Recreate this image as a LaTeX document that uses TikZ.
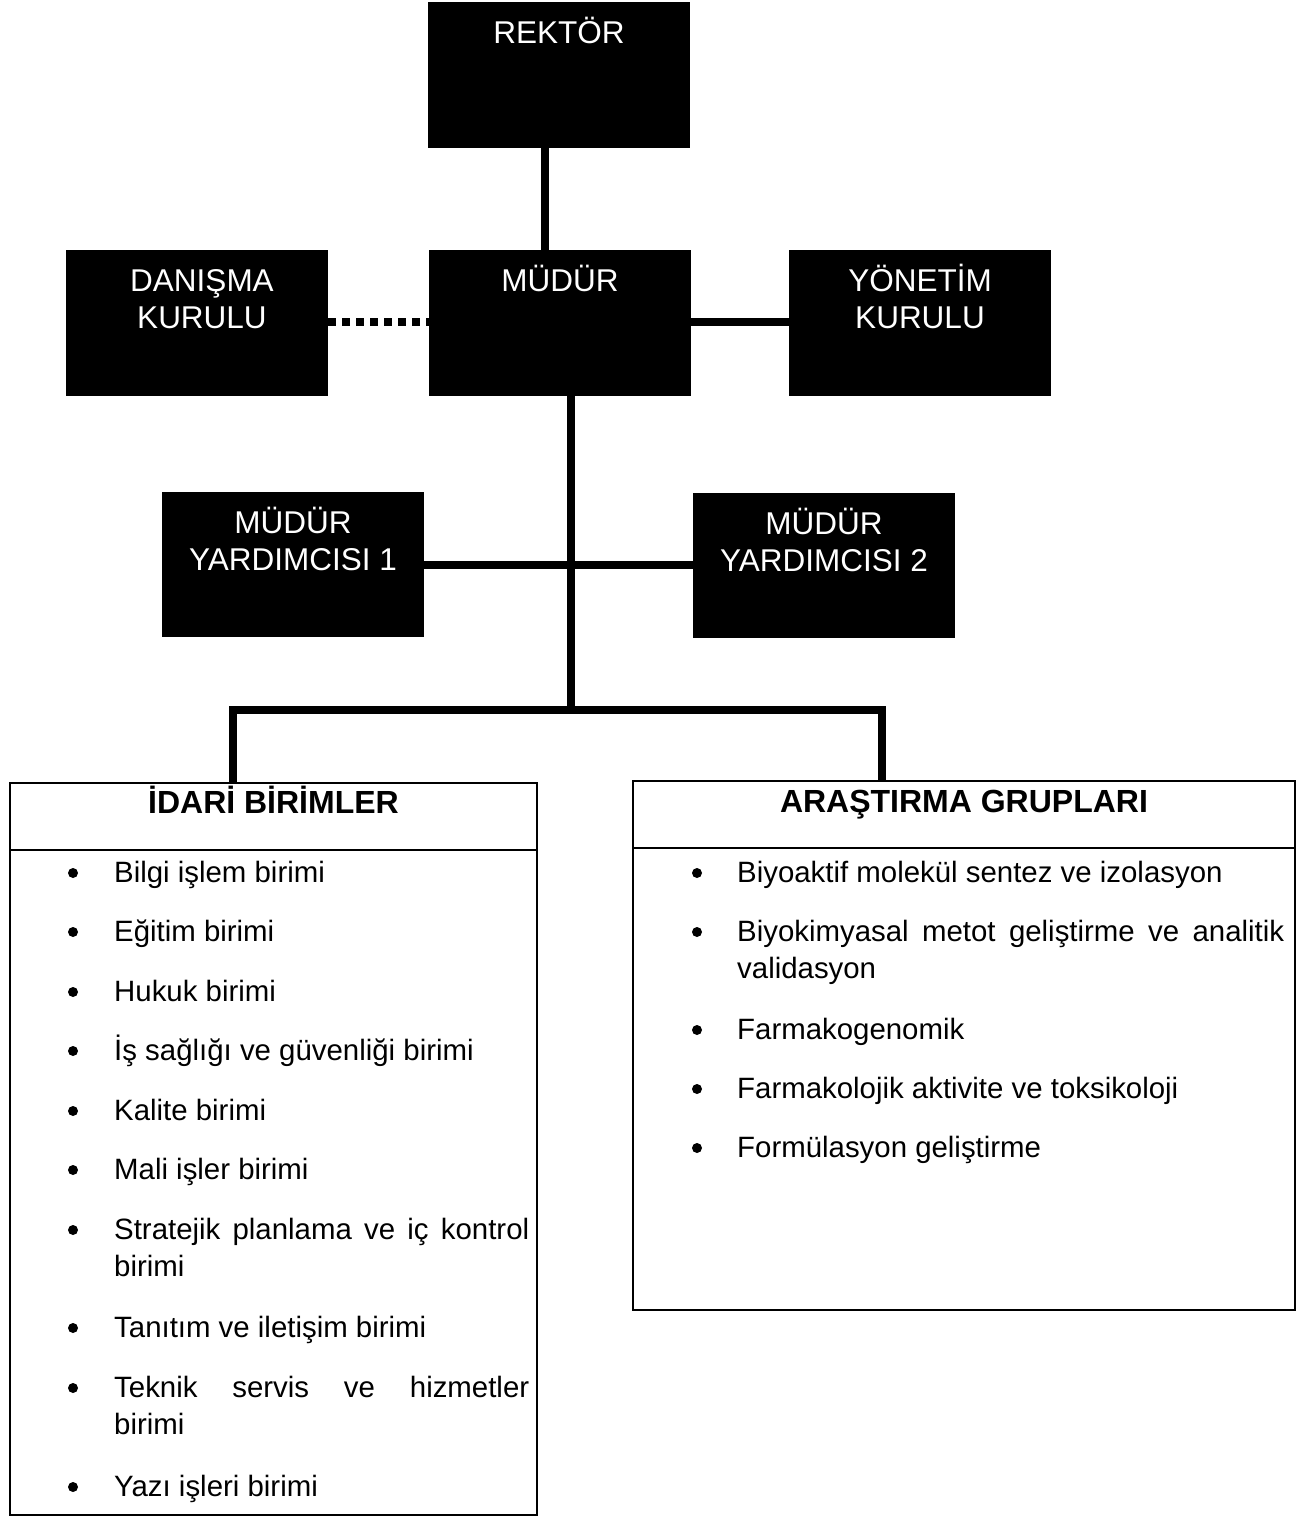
\documentclass[tikz,border=0pt]{standalone}
\usepackage{fontspec}
\setmainfont{Liberation Sans}
\usetikzlibrary{calc}
\begin{document}
\begin{tikzpicture}[x=1pt,y=-1pt,
  blk/.style={fill=black, draw=none, minimum width=262pt, minimum height=146pt, anchor=north west, inner sep=0pt, outer sep=0pt},
  wtxt/.style={text=white, font=\fontsize{31.5}{37}\selectfont, align=center, anchor=base, inner sep=0pt},
  conn/.style={line width=8pt},
  dotconn/.style={line width=8pt, dash pattern=on 8pt off 6pt},
  lbox/.style={draw, line width=2pt, anchor=north west, inner sep=0pt, outer sep=0pt},
  divline/.style={line width=2pt},
  ttl/.style={font=\bfseries\fontsize{32}{37}\selectfont, anchor=base, inner sep=0pt},
  itm/.style={font=\fontsize{29.4}{37.5}\selectfont, anchor=base west, inner sep=0pt, align=left},
  bul/.style={fill=black, circle, inner sep=0pt, minimum size=10pt}
]
\useasboundingbox (0,0) rectangle (1315,1523);

% black boxes
\node[blk] (rektor) at (428,2) {};
\node[blk] (mudur) at (429,250) {};
\node[blk] (danisma) at (66,250) {};
\node[blk] (yonetim) at (789,250) {};
\node[blk, minimum height=145pt] (my1) at (162,492) {};
\node[blk, minimum height=145pt] (my2) at (693,493) {};

% texts in black boxes (base anchor = last line)
\node[wtxt] (trektor) at ([yshift=-41pt]rektor.north) {REKTÖR};
\node[wtxt] (tmudur) at ([yshift=-41pt]mudur.north) {MÜDÜR};
\node[wtxt] (tdanisma) at ([yshift=-78pt,xshift=5pt]danisma.north) {DANIŞMA\\KURULU};
\node[wtxt] (tyonetim) at ([yshift=-78pt]yonetim.north) {YÖNETİM\\KURULU};
\node[wtxt] (tmy1) at ([yshift=-78pt]my1.north) {MÜDÜR\\YARDIMCISI 1};
\node[wtxt] (tmy2) at ([yshift=-78pt]my2.north) {MÜDÜR\\YARDIMCISI 2};

% list boxes
\node[lbox, minimum width=527pt, minimum height=732pt] (idari) at (10,783) {};
\node[lbox, minimum width=662pt, minimum height=529pt] (arastirma) at (633,781) {};
\draw[divline] ([yshift=-67pt]idari.north west) -- ([yshift=-67pt]idari.north east);
\draw[divline] ([yshift=-67pt]arastirma.north west) -- ([yshift=-67pt]arastirma.north east);
\node[ttl] (tidari) at ([yshift=-30pt]idari.north) {İDARİ BİRİMLER};
\node[ttl] (tarastirma) at ([yshift=-31pt]arastirma.north) {ARAŞTIRMA GRUPLARI};

% connectors
\draw[conn] ([xshift=117pt]rektor.south west) -- ([xshift=116pt]mudur.north west);
\draw[dotconn] ([yshift=-72pt]danisma.north east) -- ([yshift=-72pt]mudur.north west);
\draw[conn] ([yshift=-72pt]mudur.north east) -- ([yshift=-72pt]yonetim.north west);
\draw[conn] ([yshift=-73pt]my1.north east) -- ([yshift=-72pt]my2.north west);
\coordinate (bm) at (571,710);
\coordinate (bl) at (233,710);
\coordinate (br) at (882,710);
\draw[conn] ([xshift=142pt]mudur.south west) -- (bm);
\draw[conn] ([xshift=223pt]idari.north west) -- (bl) -- (br) -- ([xshift=249pt]arastirma.north west);

% left list  (first baseline / extra lines / text)
\foreach \yy/\nn/\tx [count=\i] in {
  882/0/{Bilgi işlem birimi},
  941/0/{Eğitim birimi},
  1001/0/{Hukuk birimi},
  1060/0/{İş sağlığı ve güvenliği birimi},
  1120/0/{Kalite birimi},
  1179/0/{Mali işler birimi},
  1239/1/{\makebox[415pt][s]{Stratejik planlama ve iç kontrol}\\birimi},
  1337/0/{Tanıtım ve iletişim birimi},
  1397/1/{\makebox[415pt][s]{Teknik servis ve hizmetler}\\birimi},
  1496/0/{Yazı işleri birimi}} {
  \node[bul] (lb\i) at (73,\yy-9) {};
  \node[itm] (li\i) at (114,\yy+37.5*\nn) {\tx};
}

% right list
\foreach \yy/\nn/\tx [count=\i] in {
  882/0/{Biyoaktif molekül sentez ve izolasyon},
  941/1/{\makebox[547pt][s]{Biyokimyasal metot geliştirme ve analitik}\\validasyon},
  1039/0/{Farmakogenomik},
  1098/0/{Farmakolojik aktivite ve toksikoloji},
  1157/0/{Formülasyon geliştirme}} {
  \node[bul] (rb\i) at (697,\yy-9) {};
  \node[itm] (ri\i) at (737,\yy+37.5*\nn) {\tx};
}
\end{tikzpicture}
\end{document}
